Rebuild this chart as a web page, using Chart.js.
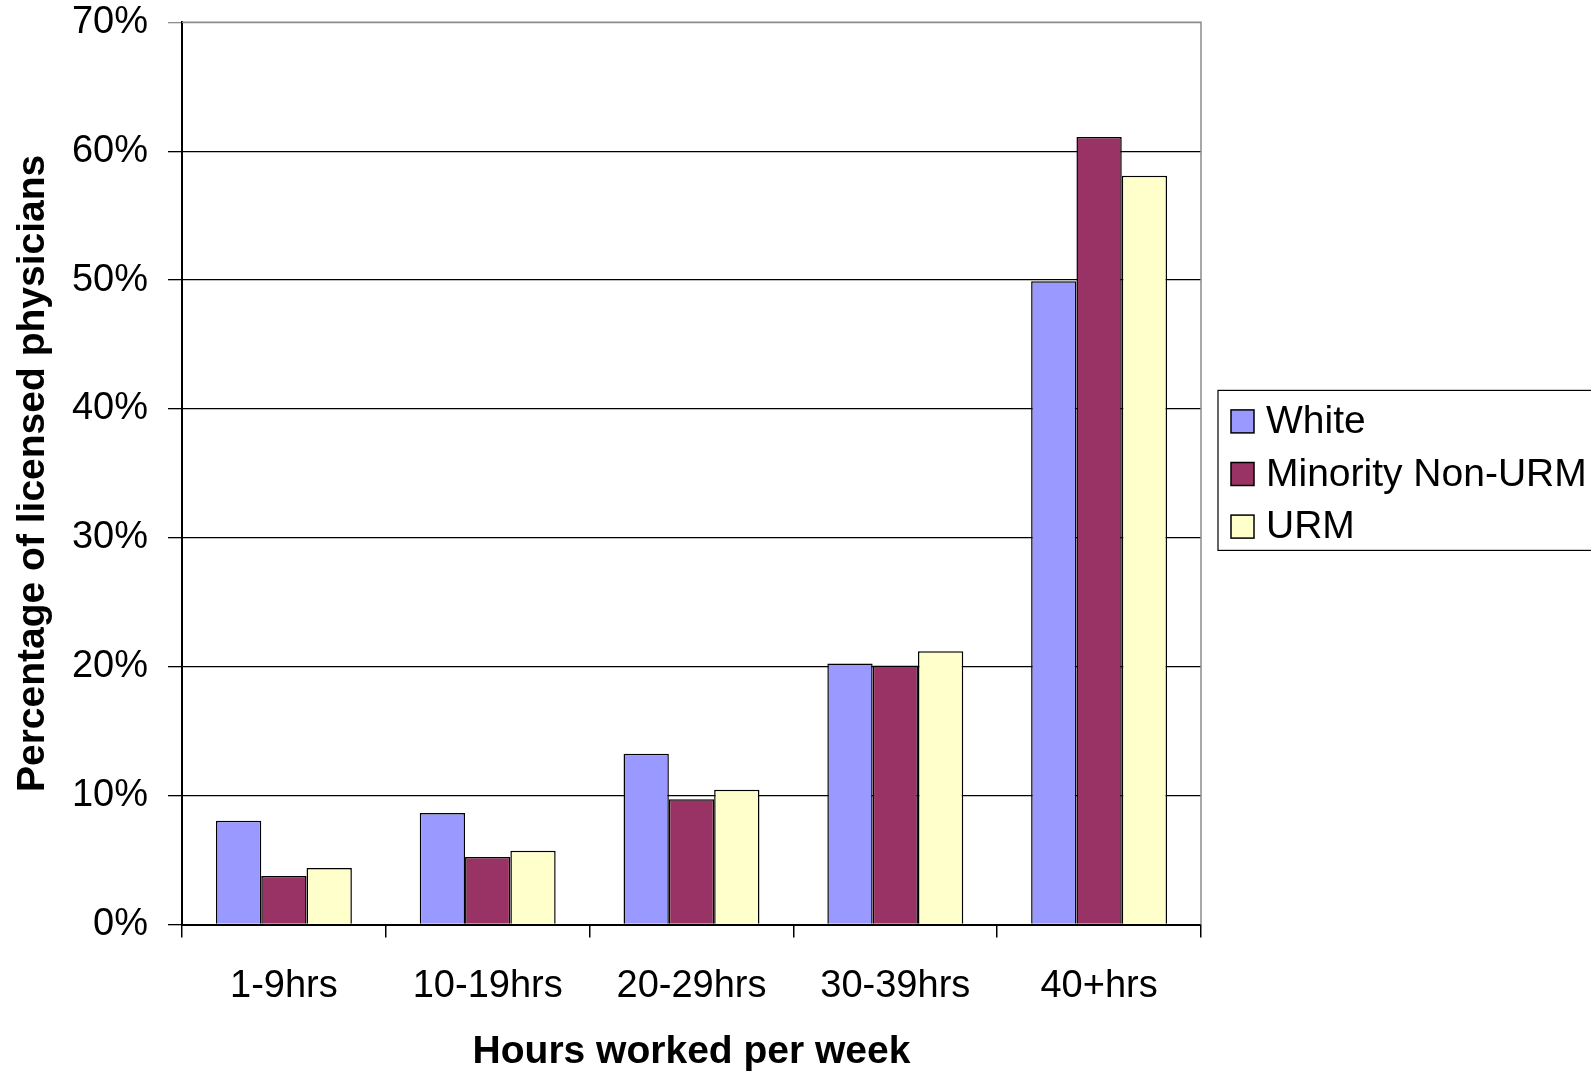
<!DOCTYPE html>
<html>
<head>
<meta charset="utf-8">
<script src="https://cdn.jsdelivr.net/npm/chart.js@4/dist/chart.umd.min.js"></script>
<style>
  html, body { margin: 0; padding: 0; background: #fff; }
  #wrap { width: 1591px; height: 1072px; }
</style>
</head>
<body>
<div id="wrap"><canvas id="chart" width="1591" height="1072"></canvas></div>
<script>
// --- DATOS ---
const categories = ["1-9hrs", "10-19hrs", "20-29hrs", "30-39hrs", "40+hrs"];
const whiteValues = [8.05, 8.65, 13.25, 20.25, 49.9];
const minorityValues = [3.76, 5.24, 9.72, 20.1, 61.1];
const urmValues = [4.38, 5.73, 10.46, 21.2, 58.1];
const yTicks = [0, 10, 20, 30, 40, 50, 60, 70];

const FONT = "'Liberation Sans', Arial, sans-serif";

// Borde gris arriba y a la derecha del área del gráfico
const frameBorder = {
  id: "frameBorder",
  beforeDatasetsDraw(chart) {
    const { ctx, chartArea: a } = chart;
    ctx.save();
    ctx.strokeStyle = "#8c8c8c";
    ctx.lineWidth = 1.5;
    ctx.beginPath();
    ctx.moveTo(a.left, a.top);
    ctx.lineTo(a.right, a.top);
    ctx.lineTo(a.right, a.bottom);
    ctx.stroke();
    ctx.restore();
  },
};

// Leyenda con recuadro (como la de Excel)
const boxedLegend = {
  id: "boxedLegend",
  afterDraw(chart) {
    const { ctx, chartArea: a } = chart;
    const left = a.right + 17;
    const top = (a.top + a.bottom) / 2 - 83;
    const rowH = 52.6;
    const sets = chart.data.datasets;
    ctx.save();
    ctx.strokeStyle = "#000";
    ctx.lineWidth = 1.2;
    ctx.strokeRect(left, top, chart.width + 20 - left, 160);
    ctx.font = `39px ${FONT}`;
    ctx.textBaseline = "middle";
    ctx.textAlign = "left";
    sets.forEach((ds, i) => {
      const cy = top + 31 + i * rowH;
      ctx.fillStyle = ds.backgroundColor;
      ctx.fillRect(left + 13, cy - 11.5, 23, 23);
      ctx.lineWidth = 1.5;
      ctx.strokeRect(left + 13, cy - 11.5, 23, 23);
      ctx.fillStyle = "#000";
      ctx.fillText(ds.label, left + 48, cy + 1);
    });
    ctx.restore();
  },
};

const ctx = document.getElementById("chart");
new Chart(ctx, {
  type: "bar",
  data: {
    labels: categories,
    datasets: [
      { label: "White", data: whiteValues, backgroundColor: "#9999ff" },
      { label: "Minority Non-URM", data: minorityValues, backgroundColor: "#993366" },
      { label: "URM", data: urmValues, backgroundColor: "#ffffcc" },
    ].map((d) => ({
      ...d,
      borderColor: "#000",
      borderWidth: 1.5,
      categoryPercentage: 0.667,
      barPercentage: 1.0,
    })),
  },
  options: {
    responsive: false,
    devicePixelRatio: 1,
    animation: false,
    layout: { padding: { top: 0, right: 390, bottom: 0, left: 0 } },
    plugins: {
      legend: { display: false },
      tooltip: { enabled: false },
    },
    scales: {
      x: {
        offset: true,
        grid: {
          offset: true,
          drawOnChartArea: false,
          drawTicks: true,
          tickLength: 13,
          color: "#000",
          lineWidth: 1.5,
        },
        border: { display: true, color: "#000", width: 2 },
        ticks: {
          color: "#000",
          padding: 26,
          font: { family: FONT, size: 38 },
          maxRotation: 0,
        },
        title: {
          display: true,
          text: "Hours worked per week",
          color: "#000",
          font: { family: FONT, size: 39, weight: "bold", lineHeight: 1.0 },
          padding: { top: 0, bottom: 0 },
        },
        afterFit(scale) {
          scale.height = 147.5;
        },
      },
      y: {
        min: 0,
        max: 70,
        afterBuildTicks(scale) {
          scale.ticks = yTicks.map((v) => ({ value: v }));
        },
        grid: {
          color: (c) => (c.tick && c.tick.value === 70 ? "#8c8c8c" : "#000"),
          lineWidth: 1.3,
          tickLength: 14,
        },
        border: { display: true, color: "#000", width: 2 },
        ticks: {
          color: "#000",
          padding: 20,
          font: { family: FONT, size: 38 },
          callback: (v) => v + "%",
        },
        title: {
          display: true,
          text: "Percentage of licensed physicians",
          color: "#000",
          font: { family: FONT, size: 39, weight: "bold" },
          padding: { top: 10, bottom: 0 },
        },
        afterFit(scale) {
          scale.width = 182;
          scale.paddingTop = 22.3;
          scale.paddingBottom = 22;
        },
      },
    },
  },
  plugins: [frameBorder, boxedLegend],
});
</script>
</body>
</html>
